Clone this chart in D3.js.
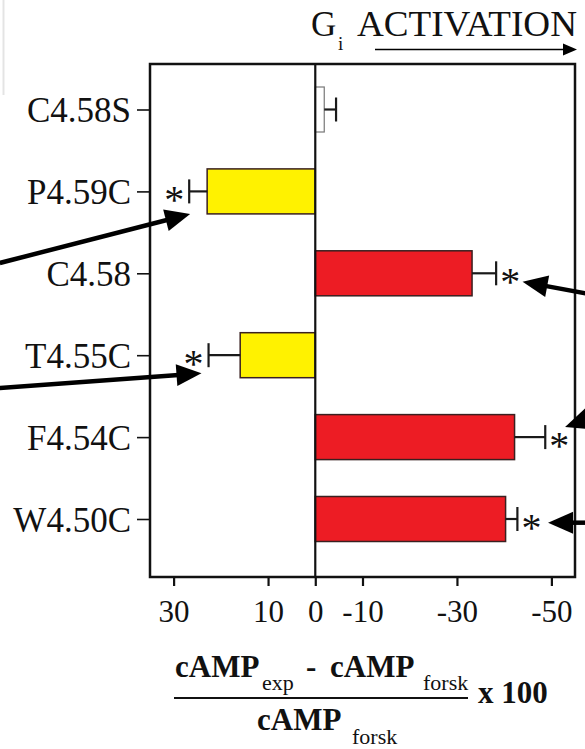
<!DOCTYPE html>
<html>
<head>
<meta charset="utf-8">
<script src="https://cdn.jsdelivr.net/npm/d3@7/dist/d3.min.js"></script>
<style>
  html, body { margin: 0; padding: 0; background: #fff; }
  svg { display: block; }
  text { font-family: "Liberation Serif", "Times New Roman", serif; fill: #111; }
</style>
</head>
<body>
<svg id="chart" width="585" height="749"></svg>
<script>
// ---- data ----
const categories = ["C4.58S", "P4.59C", "C4.58", "T4.55C", "F4.54C", "W4.50C"];
const values     = [-1.9, 22.9, -33.2, 15.9, -42.2, -40.3];
const errors     = [2.5, 3.8, 5.1, 6.7, 6.5, 2.5];
const significant = [false, true, true, true, true, true];
const barColors  = ["#ffffff", "#fff200", "#ed1c24", "#fff200", "#ed1c24", "#ed1c24"];
const xTickValues = [30, 10, 0, -10, -30, -50];
const xTickLabels = ["30", "10", "0", "-10", "-30", "-50"];
const xDomain = [35, -55];
// annotation arrows: tip and tail in data units (x value, category position index)
const arrowTipX  = [26.5, 24.1, -43.9, -52.9, -49.3];
const arrowTipP  = [1.276, 3.221, 2.103, 3.877, 5.045];
const arrowTailX = [66.8, 66.8, -60.3, -60.3, -60.3];
const arrowTailP = [1.874, 3.40, 2.277, 3.730, 5.045];

// ---- layout ----
const svg = d3.select("#chart");
const frame = { left: 150, right: 575, top: 64, bottom: 577 };

const x = d3.scaleLinear().domain(xDomain).range([frame.left, frame.right]);
const y = d3.scalePoint().domain(categories).range([109.5, 519]);
const pos = d3.scaleLinear().domain([0, categories.length - 1]).range([109.5, 519]);
const barH = 45;

// faint remnant line at far left
svg.append("line").attr("x1", 3.5).attr("x2", 3.5).attr("y1", 0).attr("y2", 95)
  .attr("stroke", "#e4e4e4").attr("stroke-width", 2);

// ---- bars ----
const data = categories.map((c, i) => ({ c, v: values[i], e: errors[i], s: significant[i], col: barColors[i] }));

svg.append("g").selectAll("rect").data(data).join("rect")
  .attr("x", d => Math.min(x(0), x(d.v)))
  .attr("width", d => Math.abs(x(d.v) - x(0)))
  .attr("y", d => y(d.c) - barH / 2)
  .attr("height", barH)
  .attr("fill", d => d.col)
  .attr("stroke", d => d.col === "#ffffff" ? "#777" : "#3a2020")
  .attr("stroke-width", d => d.col === "#ffffff" ? 1.2 : 1.5);

// error bars
const errEnd = d => d.v >= 0 ? d.v + d.e : d.v - d.e;
const eg = svg.append("g").attr("stroke", "#1a1a1a").attr("stroke-width", 2.2);
eg.selectAll("line.stem").data(data).join("line").attr("class", "stem")
  .attr("x1", d => x(d.v)).attr("x2", d => x(errEnd(d)))
  .attr("y1", d => y(d.c)).attr("y2", d => y(d.c));
eg.selectAll("line.cap").data(data).join("line").attr("class", "cap")
  .attr("x1", d => x(errEnd(d))).attr("x2", d => x(errEnd(d)))
  .attr("y1", d => y(d.c) - 12).attr("y2", d => y(d.c) + 12);

// asterisks
svg.append("g").selectAll("text").data(data.filter(d => d.s)).join("text")
  .attr("x", d => x(errEnd(d)) + (d.v >= 0 ? -15 : 14))
  .attr("y", d => y(d.c) + 22)
  .attr("text-anchor", "middle")
  .attr("font-size", 40)
  .text("*");

// ---- frame and zero line ----
svg.append("rect")
  .attr("x", frame.left).attr("y", frame.top)
  .attr("width", frame.right - frame.left).attr("height", frame.bottom - frame.top)
  .attr("fill", "none").attr("stroke", "#111").attr("stroke-width", 2.5);
svg.append("line")
  .attr("x1", x(0)).attr("x2", x(0)).attr("y1", frame.top).attr("y2", frame.bottom)
  .attr("stroke", "#111").attr("stroke-width", 2.2);

// ---- axes ----
const xAxis = svg.append("g").attr("transform", `translate(0,${frame.bottom})`)
  .call(d3.axisBottom(x).tickValues(xTickValues).tickSize(9)
    .tickFormat((d, i) => xTickLabels[i]));
xAxis.select(".domain").remove();
xAxis.selectAll(".tick line").attr("stroke", "#111").attr("stroke-width", 2.2);
xAxis.selectAll(".tick text").attr("y", 45).attr("dy", 0)
  .attr("font-size", 31).attr("font-family", "Liberation Serif, serif").attr("fill", "#111");

const yAxis = svg.append("g").attr("transform", `translate(${frame.left},0)`)
  .call(d3.axisLeft(y).tickSize(13).tickPadding(6));
yAxis.select(".domain").remove();
yAxis.selectAll(".tick line").attr("stroke", "#111").attr("stroke-width", 1.6);
yAxis.selectAll(".tick text").attr("dy", 12)
  .attr("font-size", 35).attr("font-family", "Liberation Serif, serif").attr("fill", "#111");

// ---- annotation arrows ----
function arrow(g, x1, y1, x2, y2, w, headLen, headHalf) {
  const ang = Math.atan2(y2 - y1, x2 - x1);
  const bx = x2 - headLen * Math.cos(ang), by = y2 - headLen * Math.sin(ang);
  g.append("line").attr("x1", x1).attr("y1", y1).attr("x2", bx + 2 * Math.cos(ang)).attr("y2", by + 2 * Math.sin(ang))
    .attr("stroke", "#000").attr("stroke-width", w);
  const px = -Math.sin(ang) * headHalf, py = Math.cos(ang) * headHalf;
  g.append("polygon")
    .attr("points", [[x2, y2], [bx + px, by + py], [bx - px, by - py]].map(p => p.join(",")).join(" "))
    .attr("fill", "#000");
}
const ag = svg.append("g");
arrowTipX.forEach((tx, i) => {
  arrow(ag, x(arrowTailX[i]), pos(arrowTailP[i]), x(tx), pos(arrowTipP[i]), 4.5, 25, 11);
});

// ---- title ----
const title = svg.append("text").attr("y", 36).attr("font-size", 35);
title.append("tspan").attr("x", 311).text("G");
title.append("tspan").attr("x", 338).attr("y", 50).attr("font-size", 19).text("i");
title.append("tspan").attr("x", 357).attr("y", 36)
  .attr("textLength", 220).attr("lengthAdjust", "spacingAndGlyphs").text("ACTIVATION");
arrow(svg.append("g"), 375, 49.5, 577, 49.5, 1.6, 14, 6);

// ---- x axis label (fraction) ----
const num = svg.append("text").attr("font-size", 31).attr("font-weight", "bold");
num.append("tspan").attr("x", 175).attr("y", 677).text("cAMP");
num.append("tspan").attr("x", 262).attr("y", 690).attr("font-size", 22).attr("font-weight", "normal").text("exp");
num.append("tspan").attr("x", 306).attr("y", 677).text("-");
num.append("tspan").attr("x", 330).attr("y", 677).text("cAMP");
num.append("tspan").attr("x", 423).attr("y", 690).attr("font-size", 22).attr("font-weight", "normal").text("forsk");

svg.append("line").attr("x1", 174).attr("x2", 468).attr("y1", 698).attr("y2", 698)
  .attr("stroke", "#111").attr("stroke-width", 2);

svg.append("text").attr("x", 478).attr("y", 703).attr("font-size", 31).attr("font-weight", "bold").text("x 100");

const den = svg.append("text").attr("font-size", 31).attr("font-weight", "bold");
den.append("tspan").attr("x", 257).attr("y", 730).text("cAMP");
den.append("tspan").attr("x", 352).attr("y", 744).attr("font-size", 22).attr("font-weight", "normal").text("forsk");
</script>
</body>
</html>
